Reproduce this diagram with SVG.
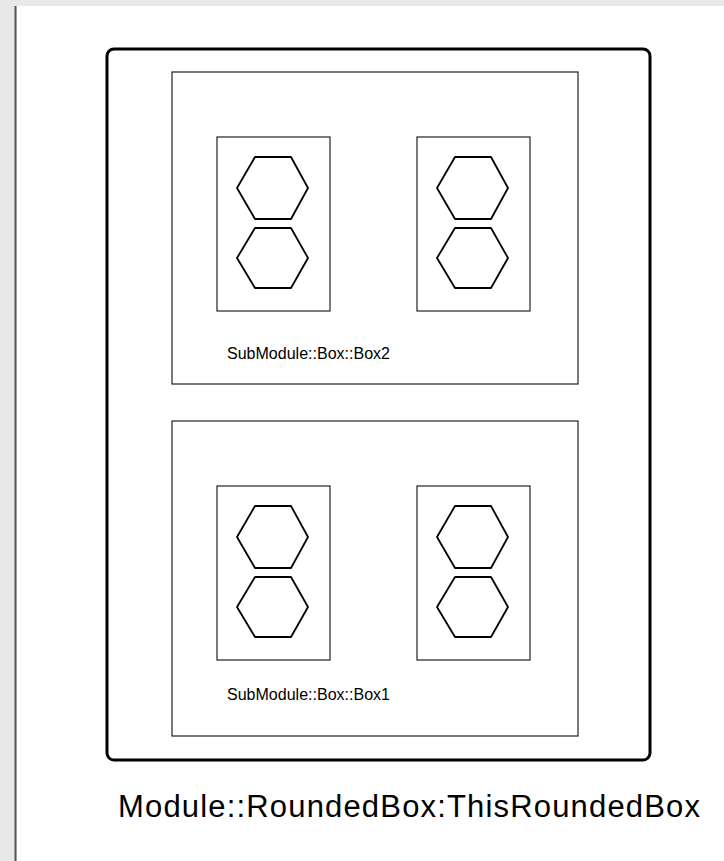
<svg xmlns="http://www.w3.org/2000/svg" width="724" height="861" viewBox="0 0 724 861">
<style>
.box{fill:none;stroke:#222;stroke-width:1.2}
.hex{fill:none;stroke:#000;stroke-width:1.8;stroke-linejoin:round}
.lbl{font-family:"Liberation Sans",Arial,sans-serif;font-size:16px;fill:#000}
.big{font-family:"Liberation Sans",Arial,sans-serif;font-size:31px;fill:#000}
</style>
<defs>
<g id="hexpair">
<polygon class="hex" points="0,31 18,0 54,0 71,31 54,62 18,62"/>
<polygon class="hex" points="0,101 18,71 54,71 71,101 54,131 18,131"/>
</g>
</defs>
<rect x="0" y="0" width="724" height="861" fill="#e8e8e8"/>
<rect x="17" y="6" width="707" height="855" fill="#ffffff"/>
<line x1="15.5" y1="6" x2="15.5" y2="861" stroke="#555" stroke-width="2"/>
<g id="ThisRoundedBox">
<rect x="107" y="49" width="543" height="711" rx="7" ry="7" fill="none" stroke="#000" stroke-width="3"/>
<text class="big" x="118" y="817" textLength="582" lengthAdjust="spacing">Module::RoundedBox:ThisRoundedBox</text>
</g>
<g id="Box2">
<rect class="box" x="172" y="72" width="406" height="312"/>
<g id="Box2-left">
<rect class="box" x="217" y="137" width="113" height="174"/>
<use href="#hexpair" x="237" y="157"/>
</g>
<g id="Box2-right">
<rect class="box" x="417" y="137" width="113" height="174"/>
<use href="#hexpair" x="437" y="157"/>
</g>
<text class="lbl" x="227" y="359" textLength="163" lengthAdjust="spacingAndGlyphs">SubModule::Box::Box2</text>
</g>
<g id="Box1">
<rect class="box" x="172" y="421" width="406" height="315"/>
<g id="Box1-left">
<rect class="box" x="217" y="486" width="113" height="174"/>
<use href="#hexpair" x="237" y="506"/>
</g>
<g id="Box1-right">
<rect class="box" x="417" y="486" width="113" height="174"/>
<use href="#hexpair" x="437" y="506"/>
</g>
<text class="lbl" x="227" y="700" textLength="163" lengthAdjust="spacingAndGlyphs">SubModule::Box::Box1</text>
</g>
<g id="connectors"></g>
</svg>
